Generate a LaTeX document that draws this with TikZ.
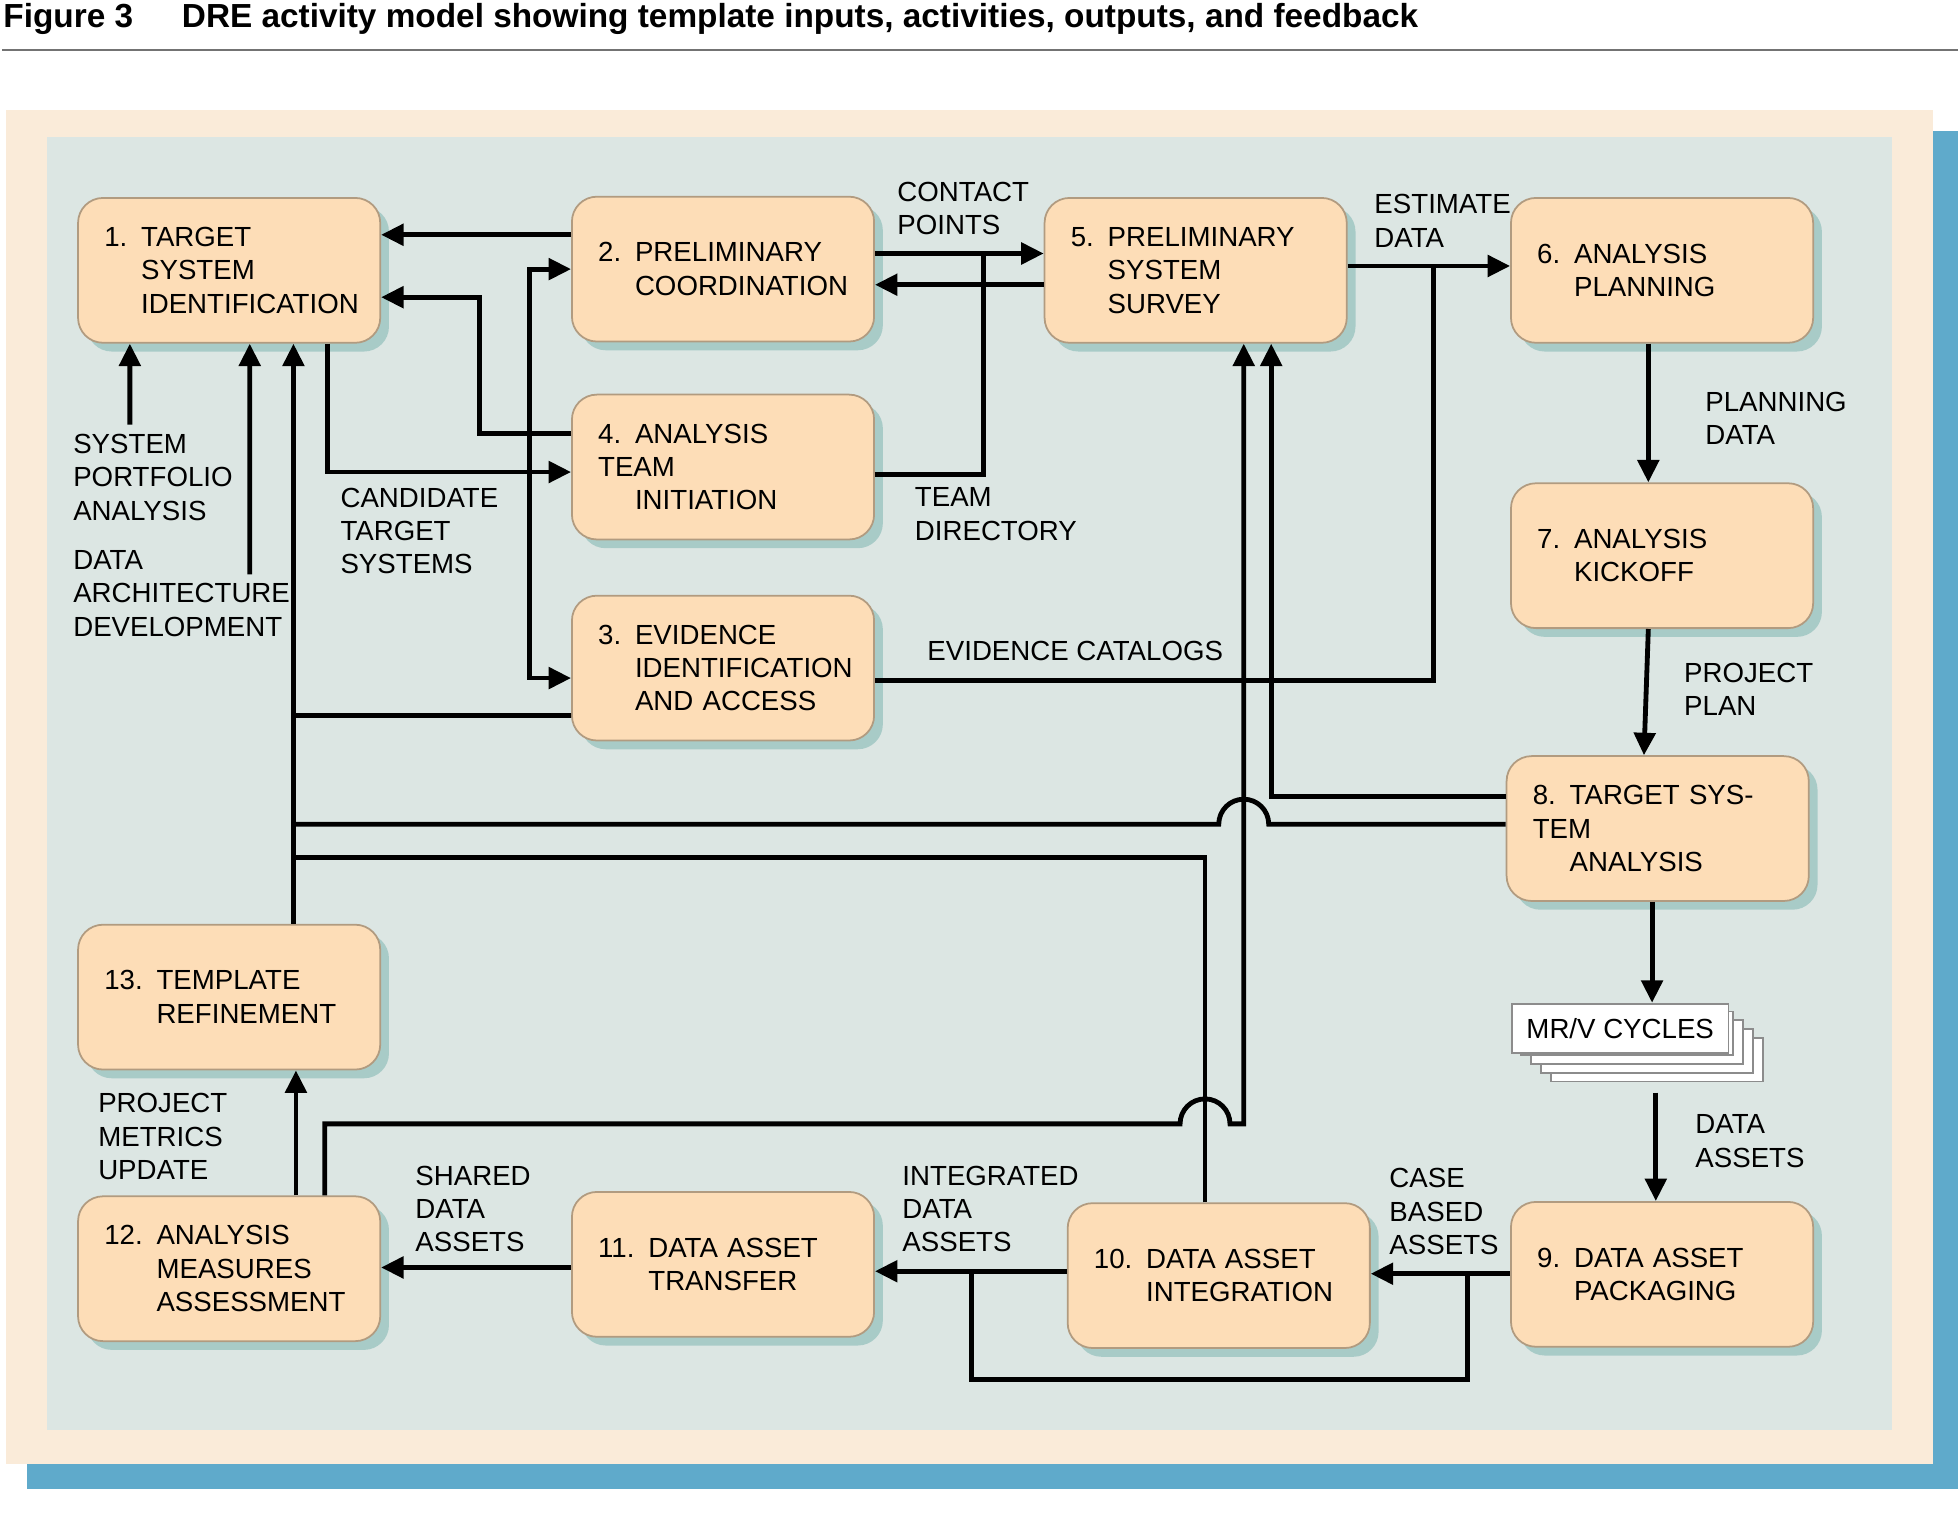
\documentclass[tikz,border=0pt]{standalone}
\usepackage{fontspec}
\setmainfont{Liberation Sans}
\usetikzlibrary{positioning, calc, arrows.meta, shadows}
\definecolor{boxfill}{HTML}{FDDDB7}
\definecolor{framefill}{HTML}{FAEBD9}
\definecolor{innerfill}{HTML}{DCE6E3}
\definecolor{sidebar}{HTML}{5FAACB}
\definecolor{boxshade}{HTML}{9CC5C1}
\tikzstyle{Arrow} = [line width=1.1pt, -{Triangle[length=0.18cm,width=0.17cm]}]
\tikzstyle{Line} = [line width=1.1pt]

\begin{document}
\begin{tikzpicture}[
			activity/.style = {rectangle, rounded corners=0.2cm, draw=boxfill!70!black, thin, fill=boxfill,
				minimum width=2.42cm, minimum height=1.16cm, text width=2.0cm, align=left,
				font=\fontsize{6.3}{7.6}\selectfont,
				drop shadow={fill=boxshade, opacity=0.8, shadow xshift=0.07cm, shadow yshift=-0.07cm}},
			note/.style = {anchor=north west, align=left, inner sep=0pt, font=\fontsize{6.3}{7.6}\selectfont},
			sheet/.style = {draw=black!45, fill=white, minimum width=1.70cm, minimum height=0.35cm},
		]
		\useasboundingbox (0,0) rectangle (15.68,-12.15);
		% title and frame
		\node[anchor=north west, inner sep=0pt, font=\bfseries\fontsize{7.6}{9}\selectfont] (fig) at (0.02,-0.02) {Figure 3};
		\node[anchor=north west, inner sep=0pt, font=\bfseries\fontsize{7.6}{9}\selectfont] (title) at (1.45,-0.02)
			{DRE activity model showing template inputs, activities, outputs, and feedback};
		\draw[black!55, line width=0.6pt] (0.02,-0.40) -- (15.68,-0.40);
		\fill[sidebar] (0.22,-1.05) rectangle (15.68,-11.92);
		\fill[framefill] (0.05,-0.88) rectangle (15.48,-11.72);
		\fill[innerfill] (0.38,-1.10) rectangle (15.15,-11.45);

		% activities
		\node[activity] (b1) at (1.835,-2.165) {1. TARGET\\\phantom{1. }SYSTEM\\\phantom{1. }IDENTIFICATION};
		\node[activity] (b2) at (5.79,-2.155) {2. PRELIMINARY\\\phantom{2. }COORDINATION};
		\node[activity] (b5) at (9.575,-2.165) {5. PRELIMINARY\\\phantom{5. }SYSTEM\\\phantom{5. }SURVEY};
		\node[activity] (b6) at (13.31,-2.165) {6. ANALYSIS\\\phantom{6. }PLANNING};
		\node[activity] (b4) at (5.79,-3.74) {4. ANALYSIS TEAM\\\phantom{4. }INITIATION};
		\node[activity] (b3) at (5.79,-5.35) {3. EVIDENCE\\\phantom{3. }IDENTIFICATION\\\phantom{3. }AND ACCESS};
		\node[activity] (b7) at (13.31,-4.45) {7. ANALYSIS\\\phantom{7. }KICKOFF};
		\node[activity] (b8) at (13.275,-6.635) {8. TARGET SYSTEM\\\phantom{8. }ANALYSIS};
		\node[activity] (b13) at (1.835,-7.985) {13. TEMPLATE\\\phantom{13. }REFINEMENT};
		\node[activity] (b12) at (1.835,-10.16) {12. ANALYSIS\\\phantom{12. }MEASURES\\\phantom{12. }ASSESSMENT};
		\node[activity] (b11) at (5.79,-10.125) {11. DATA ASSET\\\phantom{11. }TRANSFER};
		\node[activity] (b10) at (9.76,-10.215) {10. DATA ASSET\\\phantom{10. }INTEGRATION};
		\node[activity] (b9) at (13.31,-10.205) {9. DATA ASSET\\\phantom{9. }PACKAGING};

		% MR/V stack
		\foreach \k in {4,3,2,1}
			\node[sheet] at ({12.95+0.08*\k},{-8.205-0.07*\k}) {};
		\node[sheet, anchor=north west, font=\fontsize{6.3}{7.6}\selectfont] (mrv) at (12.10,-8.03) {MR/V CYCLES};
		\coordinate (mrvout) at (13.26,-8.75);

		% labels
		\node[note] (lcp) at (7.18,-1.45) {CONTACT\\POINTS};
		\node[note] (led) at (11.00,-1.55) {ESTIMATE\\DATA};
		\node[note] (ltd) at (7.32,-3.90) {TEAM\\DIRECTORY};
		\node[note] (lec) at (7.42,-5.13) {EVIDENCE CATALOGS};
		\node[note] (lct) at (2.72,-3.90) {CANDIDATE\\TARGET\\SYSTEMS};
		\node[note] (lsp) at (0.58,-3.47) {SYSTEM\\PORTFOLIO\\ANALYSIS};
		\node[note] (lda) at (0.58,-4.40) {DATA\\ARCHITECTURE\\DEVELOPMENT};
		\node[note] (lpd) at (13.65,-3.13) {PLANNING\\DATA};
		\node[note] (lpp) at (13.48,-5.30) {PROJECT\\PLAN};
		\node[note] (lda2) at (13.57,-8.92) {DATA\\ASSETS};
		\node[note] (lcb) at (11.12,-9.35) {CASE\\BASED\\ASSETS};
		\node[note] (lia) at (7.22,-9.33) {INTEGRATED\\DATA\\ASSETS};
		\node[note] (lsd) at (3.32,-9.33) {SHARED\\DATA\\ASSETS};
		\node[note] (lpm) at (0.78,-8.75) {PROJECT\\METRICS\\UPDATE};

		% external inputs
		\coordinate (inSP) at (1.04,-3.40);
		\coordinate (inDA) at (2.00,-4.60);
		\draw[Arrow] (inSP) -- ([xshift=-0.795cm]b1.south);
		\draw[Arrow] (inDA) -- ([xshift=0.165cm]b1.south);

		% top row
		\draw[Arrow] ([yshift=0.275cm]b2.west) -- ([yshift=0.275cm]b2.west -| b1.east);
		\draw[Arrow] ([yshift=0.27cm]b4.west) -- ++(-0.73,0) |- ([yshift=-0.215cm]b1.east);
		\draw[Arrow] ([xshift=0.785cm]b1.south) |- ([yshift=-0.04cm]b4.west);
		\draw[Arrow, {Triangle[length=0.18cm,width=0.17cm]}-{Triangle[length=0.18cm,width=0.17cm]}]
			(b2.west) -- ++(-0.33,0) |- ([yshift=-0.08cm]b3.west);
		\draw[Arrow] ([yshift=0.125cm]b2.east) -- ([yshift=0.125cm]b2.east -| b5.west);
		\draw[Arrow] ([yshift=-0.115cm]b5.west) -- ([yshift=-0.115cm]b5.west -| b2.east);
		\draw[Line] ([yshift=-0.06cm]b4.east) -- ++(0.87,0) |- ([yshift=0.125cm]b2.east);
		\draw[Arrow] ([yshift=0.035cm]b5.east) -- ([yshift=0.035cm]b5.east -| b6.west);
		\draw[Line] ([yshift=-0.1cm]b3.east) -| (11.48,-2.13);

		% right column
		\draw[Arrow] ([xshift=-0.11cm]b6.south) -- ([xshift=-0.11cm]b7.north);
		\draw[Arrow] ([xshift=-0.11cm]b7.south) -- ([xshift=-0.11cm]b8.north);
		\draw[Arrow] ([xshift=-0.045cm]b8.south) -- (13.23,-8.03);
		\draw[Arrow] (mrvout) -- (mrvout |- b9.north);

		% feedback
		\draw[Arrow] ([yshift=0.255cm]b8.west) -| ([xshift=0.605cm]b5.south);
		\draw[Line] ([yshift=0.035cm]b8.west) -- (10.16,-6.60) arc (0:180:0.2) -- (2.35,-6.60);
		\draw[Line] ([xshift=-0.11cm]b10.north) |- (2.35,-6.87);
		\draw[Arrow] ([xshift=0.765cm]b12.north) |- (9.45,-9.00) arc (180:0:0.2) -| ([xshift=0.385cm]b5.south);
		\draw[Line] ([yshift=-0.38cm]b3.west) -- (2.35,-5.73);
		\draw[Arrow] ([xshift=0.515cm]b13.north) -- ([xshift=0.515cm]b1.south);
		\draw[Arrow] ([xshift=0.535cm]b12.north) -- ([xshift=0.535cm]b13.south);

		% bottom row
		\draw[Arrow] ([yshift=0.005cm]b9.west) -- ([yshift=0.005cm]b9.west -| b10.east);
		\draw[Line] (11.75,-10.20) -- (11.75,-11.05) -- (7.78,-11.05) -- (7.78,-10.18);
		\draw[Arrow] ([yshift=0.035cm]b10.west) -- ([yshift=0.035cm]b10.west -| b11.east);
		\draw[Arrow] ([yshift=-0.025cm]b11.west) -- ([yshift=-0.025cm]b11.west -| b12.east);
	\end{tikzpicture}
\end{document}
